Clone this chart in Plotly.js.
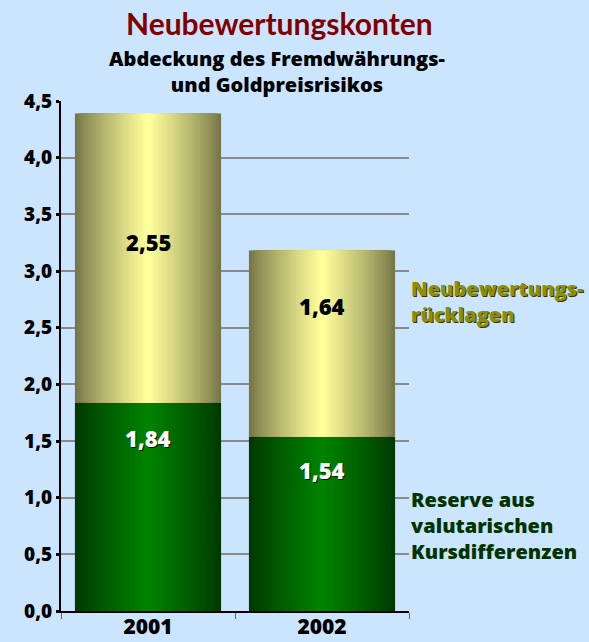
<!DOCTYPE html>
<html>
<head>
<meta charset="utf-8">
<script src="https://cdn.plot.ly/plotly-3.0.1.min.js"></script>
<style>html,body{margin:0;padding:0;background:#cce5ff;}#chart{width:589px;height:642px;}</style>
</head>
<body>
<div id="chart"></div>
<script>
// ---- data ----
const years = ['2001', '2002'];
const reserveValues = [1.84, 1.54];        // Reserve aus valutarischen Kursdifferenzen
const rucklagenValues = [2.55, 1.64];      // Neubewertungsrücklagen
const reserveLabels = ['1,84', '1,54'];
const rucklagenLabels = ['2,55', '1,64'];
const yTicks = [0, 0.5, 1, 1.5, 2, 2.5, 3, 3.5, 4, 4.5];
const titleText = 'Neubewertungskonten';
const subtitleLines = ['Abdeckung des Fremdwährungs-', 'und Goldpreisrisikos'];
const rucklagenNameLines = ['Neubewertungs-', 'rücklagen'];
const reserveNameLines = ['Reserve aus', 'valutarischen', 'Kursdifferenzen'];

// ---- style / positions ----
const FONT = 'Lato, "Open Sans", sans-serif';
const FONT2 = '"Open Sans", Lato, sans-serif';
const BAR_W = 0.84;
const N = 28;
const rucklagenLabelY = [3.26, 2.69];
const reserveLabelY = [1.53, 1.24];

function mix(a, b, t) {
  return 'rgb(' + a.map((v, i) => Math.round(v + (b[i] - v) * t)).join(',') + ')';
}

const traces = [];
function addGradient(values, base, edge, center) {
  for (let i = 0; i < N; i++) {
    const t = Math.pow(i / (N - 1), 0.85);
    traces.push({
      type: 'bar', x: years, y: values, base: base,
      width: years.map(() => BAR_W * (1 - i / N)),
      marker: {color: mix(edge, center, t), line: {width: 0}},
      hoverinfo: 'skip', showlegend: false
    });
  }
}
addGradient(reserveValues, years.map(() => 0), [0, 56, 0], [0, 130, 0]);
addGradient(rucklagenValues, reserveValues, [118, 118, 72], [255, 255, 156]);

const annotations = [
  {text: titleText, xref: 'paper', yref: 'paper', x: 0.6293, y: 1.1529,
   xanchor: 'center', yanchor: 'middle',
   showarrow: false, font: {family: FONT, size: 30, color: '#800000', weight: 700}},
  {text: subtitleLines.join('<br>'), xref: 'paper', yref: 'paper', x: 0.6193, y: 1.0588,
   xanchor: 'center', yanchor: 'middle', align: 'center', showarrow: false,
   font: {family: FONT2, size: 20, color: '#000000', weight: 800}},
  {text: rucklagenNameLines.join('<br>'), xref: 'paper', yref: 'paper', x: 1.0, y: 0.6078,
   xanchor: 'left', yanchor: 'middle', align: 'left', showarrow: false,
   font: {family: FONT2, size: 20, color: '#8f8f00', weight: 800, shadow: '1px 1px 0px #333300'}},
  {text: reserveNameLines.join('<br>'), xref: 'paper', yref: 'paper', x: 1.0, y: 0.1667,
   xanchor: 'left', yanchor: 'middle', align: 'left', showarrow: false,
   font: {family: FONT2, size: 20, color: '#003300', weight: 800}}
];
years.forEach((yr, i) => {
  annotations.push({text: rucklagenLabels[i], x: i, y: rucklagenLabelY[i], xref: 'x', yref: 'y',
    xanchor: 'center', yanchor: 'middle',
    showarrow: false, font: {family: FONT2, size: 22, color: '#000000', weight: 800}});
  annotations.push({text: reserveLabels[i], x: i, y: reserveLabelY[i], xref: 'x', yref: 'y',
    xanchor: 'center', yanchor: 'middle',
    showarrow: false, font: {family: FONT2, size: 22, color: '#ffffff', weight: 800, shadow: '1px 1px 0px #002200'}});
});

const layout = {
  width: 589, height: 642,
  margin: {l: 61, r: 180, t: 101, b: 31, pad: 0},
  paper_bgcolor: '#cce5ff', plot_bgcolor: '#cce5ff',
  barmode: 'overlay', separators: ',.',
  showlegend: false,
  font: {family: FONT, color: '#000000'},
  xaxis: {
    type: 'category', range: [-0.5, 1.5], showgrid: false,
    showline: true, linecolor: '#000000', linewidth: 2,
    ticks: 'outside', tickson: 'boundaries', ticklen: 6, tickcolor: '#666666', tickwidth: 1,
    ticklabelstandoff: -4,
    tickfont: {family: FONT2, size: 21, color: '#000000', weight: 800}, fixedrange: true
  },
  yaxis: {
    range: [0, 4.5], tickvals: yTicks, tickformat: '.1f',
    showgrid: true, gridcolor: '#8a8a8a', gridwidth: 2, zeroline: false,
    showline: true, linecolor: '#000000', linewidth: 2,
    ticks: 'outside', ticklen: 3, tickwidth: 3, tickcolor: '#000000',
    tickfont: {family: FONT2, size: 19, color: '#000000', weight: 800}, fixedrange: true
  },
  annotations: annotations
};

Plotly.newPlot('chart', traces, layout, {displayModeBar: false, staticPlot: true});
</script>
</body>
</html>
